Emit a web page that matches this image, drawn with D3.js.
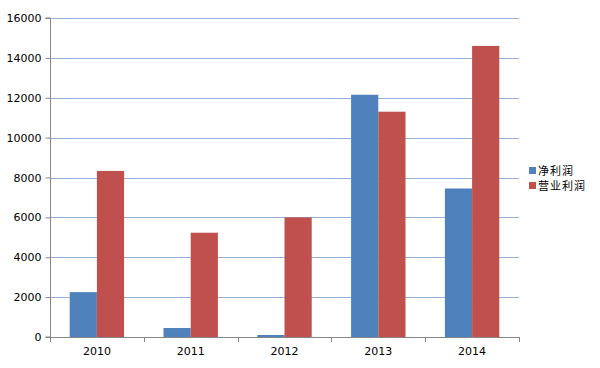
<!DOCTYPE html>
<html><head><meta charset="utf-8">
<script src="https://cdn.jsdelivr.net/npm/d3@7"></script>
<style>body{margin:0;background:#fff}svg{display:block}</style>
</head><body><svg id="c" width="600" height="368"></svg>
<script>
const categories = ["2010","2011","2012","2013","2014"];
const seriesNames = ["净利润","营业利润"];
const netProfit = [2250, 450, 100, 12150, 7450];
const operatingProfit = [8330, 5230, 6000, 11300, 14600];
const yTicks = [0,2000,4000,6000,8000,10000,12000,14000,16000];
const colors = ["#4F81BD","#C0504D"];

(function(){
const svg = d3.select("#c");
const pl = 50, pr = 519, pt = 18, pb = 337;
const x = d3.scaleBand().domain(categories).range([pl,pr]).padding(0);
const y = d3.scaleLinear().domain([0,16000]).range([pb,pt]);
const barW = x.bandwidth()*0.29;
const offset = (x.bandwidth() - 2*barW)/2;

svg.append("g").selectAll("line").data(yTicks.filter(d=>d>0)).join("line")
  .attr("x1",pl).attr("x2",pr).attr("y1",d=>Math.round(y(d))+0.5).attr("y2",d=>Math.round(y(d))+0.5)
  .attr("stroke","#94B0D8").attr("stroke-width",1);

const series = [netProfit, operatingProfit];
series.forEach((vals,si)=>{
  svg.append("g").selectAll("rect").data(vals).join("rect")
    .attr("x",(d,i)=>x(categories[i])+offset+si*barW)
    .attr("width",barW)
    .attr("y",d=>y(d)).attr("height",d=>y(0)-y(d))
    .attr("fill",colors[si]);
});

const ya = svg.append("g").attr("transform",`translate(${pl+0.5},0)`)
  .call(d3.axisLeft(y).tickValues(yTicks).tickSize(5).tickPadding(6).tickFormat(d3.format("d")));
ya.select(".domain").attr("stroke","#868686").attr("d",`M-5,${pt}H0V${pb}H-5`);
ya.selectAll(".tick line").attr("stroke","#868686");
ya.selectAll(".tick text").attr("font-family","DejaVu Sans, sans-serif").attr("font-size",11).attr("fill","#000").attr("x",-9);

const xa = svg.append("g").attr("transform",`translate(0,${pb+0.5})`)
  .call(d3.axisBottom(x).tickSize(0).tickPadding(10));
xa.select(".domain").attr("stroke","#868686").attr("d",`M${pl},0H${pr}`);
xa.selectAll(".tick text").attr("font-family","DejaVu Sans, sans-serif").attr("font-size",11).attr("fill","#000");
svg.append("g").selectAll("line").data(categories.concat(["end"])).join("line")
  .attr("x1",(d,i)=>Math.round(pl+i*x.bandwidth())+0.5).attr("x2",(d,i)=>Math.round(pl+i*x.bandwidth())+0.5)
  .attr("y1",pb).attr("y2",pb+5).attr("stroke","#868686");

const lg = svg.append("g").attr("transform","translate(529,165)");
seriesNames.forEach((n,i)=>{
  lg.append("rect").attr("x",0).attr("y",i*15+2).attr("width",7).attr("height",7).attr("fill",colors[i]);
  lg.append("text").attr("x",9).attr("y",i*15+10).text(n)
    .attr("font-family","Noto Sans CJK SC, sans-serif").attr("font-size",11).attr("letter-spacing",1).attr("fill","#000");
});
})();
</script></body></html>
